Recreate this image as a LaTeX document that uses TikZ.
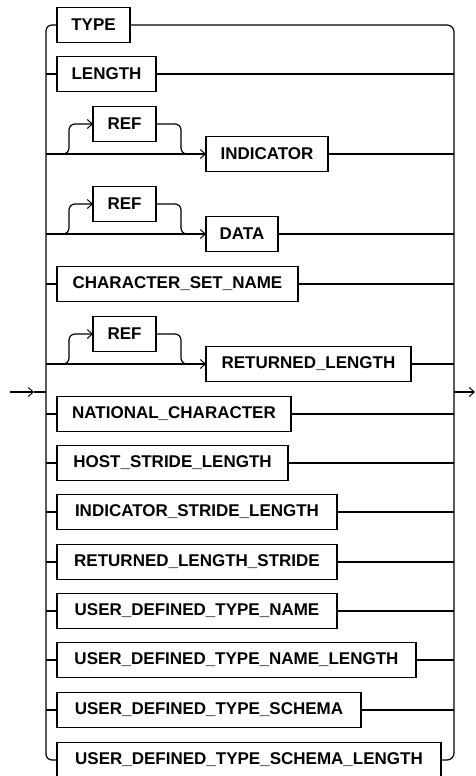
\documentclass[tikz,border=0pt]{standalone}
\usepackage{fontspec}
\setmainfont{Liberation Sans}
\usetikzlibrary{arrows.meta}
\begin{document}
\begin{tikzpicture}[x=1pt,y=-1pt,
  line width=1.2pt,
  kw/.style={draw, rectangle, anchor=west, minimum height=35pt, inner sep=0pt, outer sep=0pt,
     font=\fontsize{17}{17}\selectfont\bfseries},
  tip/.style={-{Straight Barb[length=5pt,width=9pt,line width=1pt]}},
  rc/.style={rounded corners=6pt}]
\useasboundingbox (0,0) rectangle (475,776);
\clip (0,0) rectangle (475,776);
% boxes
\node[kw, minimum width=73pt]  (type)   at (57,25)  {TYPE};
\node[kw, minimum width=99pt]  (length) at (57,74)  {LENGTH};
\node[kw, minimum width=63pt]  (ref1)   at (93,124) {REF};
\node[kw, minimum width=122pt] (ind)    at (206,154) {INDICATOR};
\node[kw, minimum width=63pt]  (ref2)   at (93,204) {REF};
\node[kw, minimum width=72pt]  (data)   at (206,234) {DATA};
\node[kw, minimum width=241pt] (csn)    at (57,284) {CHARACTER\_SET\_NAME};
\node[kw, minimum width=63pt]  (ref3)   at (93,334) {REF};
\node[kw, minimum width=205pt] (rl)     at (206,364) {RETURNED\_LENGTH};
\node[kw, minimum width=234pt] (nc)     at (57,414) {NATIONAL\_CHARACTER};
\node[kw, minimum width=231pt] (hsl)    at (57,463) {HOST\_STRIDE\_LENGTH};
\node[kw, minimum width=280pt] (isl)    at (57,512) {INDICATOR\_STRIDE\_LENGTH};
\node[kw, minimum width=280pt] (rls)    at (57,562) {RETURNED\_LENGTH\_STRIDE};
\node[kw, minimum width=280pt] (udtn)   at (57,611) {USER\_DEFINED\_TYPE\_NAME};
\node[kw, minimum width=359pt] (udtnl)  at (57,660) {USER\_DEFINED\_TYPE\_NAME\_LENGTH};
\node[kw, minimum width=304pt] (udts)   at (57,710) {USER\_DEFINED\_TYPE\_SCHEMA};
\node[kw, minimum width=384pt] (udtsl)  at (57,760) {USER\_DEFINED\_TYPE\_SCHEMA\_LENGTH};
% entry / exit
\coordinate (in) at (10,392);
\coordinate (inmid) at (34,392);
\coordinate (lr) at (46,392);
\coordinate (rr) at (454,392);
\coordinate (out) at (475,392);
\draw[tip] (in) -- (inmid);
\draw (inmid) -- (lr);
\draw[tip] (rr) -- (out);
% rails
\draw[rc] (type.west) -- (46,25) -- (46,760) -- (udtsl.west);
\draw[rounded corners=7pt] (type.east) -- (454,25) -- (454,760) -- (udtsl.east);
% simple branches
\foreach \n in {length,csn,nc,hsl,isl,rls,udtn,udtnl,udts}{
  \draw (46,0 |- \n.west) -- (\n.west);
  \draw (\n.east) -- (454,0 |- \n.east);
}
% REF rows
\foreach \r/\b in {ref1/ind,ref2/data,ref3/rl}{
  \draw[tip] (46,0 |- \b.west) -- (\b.west);
  \draw (\b.east) -- (454,0 |- \b.east);
  \draw[rc,tip] (60,0 |- \b.west) -| (69,0 |- \r.west) -- (\r.west);
  \draw[rc] (\r.east) -| (181,0 |- \b.west) -- (190,0 |- \b.west);
}
\end{tikzpicture}
\end{document}
